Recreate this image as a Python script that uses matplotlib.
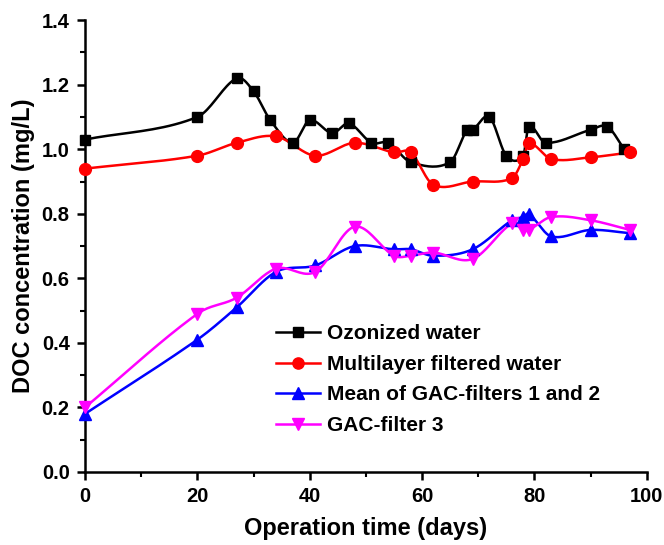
import numpy as np
import matplotlib
matplotlib.use("Agg")
import matplotlib.pyplot as plt
from matplotlib.ticker import MultipleLocator

plt.rcParams['font.family'] = ['Liberation Sans', 'DejaVu Sans']
plt.rcParams['font.weight'] = 'bold'

# Data
ozon_days = [0, 20, 27, 30, 33, 37, 40, 44, 47, 51, 54, 58, 65, 68, 69, 72, 75, 78, 79, 82, 90, 93, 96]
ozon_doc = [1.03, 1.10, 1.22, 1.18, 1.09, 1.02, 1.09, 1.05, 1.08, 1.02, 1.02, 0.96, 0.96, 1.06, 1.06,
            1.10, 0.98, 0.98, 1.07, 1.02, 1.06, 1.07, 1.00]

multi_days = [0, 20, 27, 34, 41, 48, 55, 58, 62, 69, 76, 78, 79, 83, 90, 97]
multi_doc = [0.94, 0.98, 1.02, 1.04, 0.98, 1.02, 0.99, 0.99, 0.89, 0.90, 0.91, 0.97, 1.02, 0.97, 0.975, 0.99]

gac12_days = [0, 20, 27, 34, 41, 48, 55, 58, 62, 69, 76, 78, 79, 83, 90, 97]
gac12_doc = [0.18, 0.41, 0.51, 0.62, 0.64, 0.70, 0.69, 0.69, 0.67, 0.69, 0.78, 0.79, 0.80, 0.73, 0.75, 0.74]

gac3_days = [0, 20, 27, 34, 41, 48, 55, 58, 62, 69, 76, 78, 79, 83, 90, 97]
gac3_doc = [0.20, 0.49, 0.54, 0.63, 0.62, 0.76, 0.67, 0.67, 0.68, 0.66, 0.77, 0.75, 0.75, 0.79, 0.78, 0.75]

series = [
    ("Ozonized water", ozon_days, ozon_doc, "black", "s", 7.5),
    ("Multilayer filtered water", multi_days, multi_doc, "#ff0000", "o", 8.5),
    ("Mean of GAC-filters 1 and 2", gac12_days, gac12_doc, "#0000ff", "^", 8.5),
    ("GAC-filter 3", gac3_days, gac3_doc, "#ff00ff", "v", 8.5),
]


def smooth(x, y, n=20):
    """Cubic Hermite curve through the points (for drawing the connecting line)."""
    x = np.asarray(x, float)
    y = np.asarray(y, float)
    m = np.zeros_like(y)
    m[1:-1] = (y[2:] - y[:-2]) / (x[2:] - x[:-2])
    m[0] = (y[1] - y[0]) / (x[1] - x[0])
    m[-1] = (y[-1] - y[-2]) / (x[-1] - x[-2])
    xs, ys = [], []
    for i in range(len(x) - 1):
        h = x[i + 1] - x[i]
        t = np.linspace(0, 1, n, endpoint=False)
        h00 = 2 * t**3 - 3 * t**2 + 1
        h10 = t**3 - 2 * t**2 + t
        h01 = -2 * t**3 + 3 * t**2
        h11 = t**3 - t**2
        xs.append(x[i] + t * h)
        ys.append(h00 * y[i] + h10 * h * m[i] + h01 * y[i + 1] + h11 * h * m[i + 1])
    xs.append([x[-1]])
    ys.append([y[-1]])
    return np.concatenate(xs), np.concatenate(ys)


fig = plt.figure(figsize=(6.64, 5.45), dpi=100)
ax = fig.add_axes([0.128, 0.134, 0.846, 0.829])

for label, d, v, c, mk, ms in series:
    sx, sy = smooth(d, v)
    ax.plot(sx, sy, color=c, lw=1.8, zorder=2, clip_on=False)
    ax.plot(d, v, linestyle='none', marker=mk, color=c, markersize=ms, zorder=3, clip_on=False)
    ax.plot([], [], color=c, lw=1.8, marker=mk, markersize=ms * 0.95, label=label)

ax.set_xlim(0, 100)
ax.set_ylim(0, 1.4)
ax.xaxis.set_major_locator(MultipleLocator(20))
ax.xaxis.set_minor_locator(MultipleLocator(10))
ax.yaxis.set_major_locator(MultipleLocator(0.2))
ax.yaxis.set_minor_locator(MultipleLocator(0.1))
ax.yaxis.set_major_formatter(matplotlib.ticker.FormatStrFormatter('%.1f'))

for s in ['top', 'right']:
    ax.spines[s].set_visible(False)
for s in ['left', 'bottom']:
    ax.spines[s].set_linewidth(1.8)
ax.spines['left'].set_bounds(0, 1.4)
ax.spines['bottom'].set_bounds(0, 100)

ax.tick_params(which='major', direction='out', length=6, width=1.8, labelsize=14.5, pad=5)
ax.tick_params(which='minor', direction='out', length=3.5, width=1.5)
for lab in ax.get_xticklabels() + ax.get_yticklabels():
    lab.set_fontweight('bold')

ax.set_xlabel('Operation time (days)', fontsize=17, fontweight='bold', labelpad=8)
ax.set_ylabel('DOC concentration (mg/L)', fontsize=17, fontweight='bold', labelpad=5)

leg = ax.legend(loc='upper left', bbox_to_anchor=(0.325, 0.345), frameon=False,
                prop={'weight': 'bold', 'size': 15}, handlelength=2.1,
                labelspacing=0.55, handletextpad=0.35, borderaxespad=0)

fig.savefig('out.png', dpi=100)
